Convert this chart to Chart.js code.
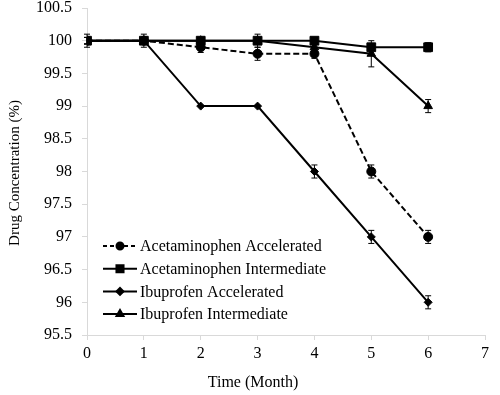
<!DOCTYPE html>
<html lang="en">
<head>
  <meta charset="UTF-8" />
  <title>Drug Concentration</title>
  <script src="https://cdn.jsdelivr.net/npm/chart.js"></script>
  <style>
    body { margin: 0; padding: 0; background: #fff; }
    #wrap { width: 500px; height: 395px; }
  </style>
</head>
<body>
  <div id="wrap"><canvas id="grafico" width="500" height="395"></canvas></div>

  <script>
    const meses = [0, 1, 2, 3, 4, 5, 6];
    const acetAcc = [100, 100, 99.9, 99.8, 99.8, 98, 97];
    const acetInt = [100, 100, 100, 100, 100, 99.9, 99.9];
    const ibuAcc = [100, 100, 99, 99, 98, 97, 96];
    const ibuInt = [100, 100, 100, 100, 99.9, 99.8, 99];
    const errAcetAcc = [0.05, 0.05, 0.08, 0.1, 0.07, 0.1, 0.1];
    const errAcetInt = [0.05, 0.05, 0.05, 0.1, 0.05, 0.05, 0.07];
    const errIbuAcc = [0.05, 0.05, 0, 0, 0.1, 0.1, 0.1];
    const errIbuInt = [0.1, 0.1, 0.05, 0.05, 0.05, 0.2, 0.1];
    const xTicks = [0, 1, 2, 3, 4, 5, 6, 7];
    const yTicks = [95.5, 96, 96.5, 97, 97.5, 98, 98.5, 99, 99.5, 100, 100.5];
    const etiquetas = ["Acetaminophen Accelerated", "Acetaminophen Intermediate",
                       "Ibuprofen Accelerated", "Ibuprofen Intermediate"];

    const fuente = '"Liberation Serif", "Times New Roman", serif';
    const gris = '#d9d9d9';

    function puntos(valores) {
      return meses.map((m, i) => ({ x: m, y: valores[i] }));
    }

    // barras de error, dibujadas antes de los marcadores
    const barrasError = {
      id: 'barrasError',
      beforeDatasetsDraw(chart) {
        const ctx = chart.ctx;
        const xs = chart.scales.x, ys = chart.scales.y;
        ctx.save();
        ctx.strokeStyle = '#000';
        ctx.lineWidth = 1;
        chart.data.datasets.forEach(ds => {
          ds.data.forEach((p, i) => {
            const e = ds.errores[i];
            if (!e) return;
            const x = xs.getPixelForValue(p.x);
            const y1 = ys.getPixelForValue(p.y + e);
            const y2 = ys.getPixelForValue(p.y - e);
            ctx.beginPath();
            ctx.moveTo(x, y1); ctx.lineTo(x, y2);
            ctx.moveTo(x - 3, y1); ctx.lineTo(x + 3, y1);
            ctx.moveTo(x - 3, y2); ctx.lineTo(x + 3, y2);
            ctx.stroke();
          });
        });
        ctx.restore();
      }
    };

    // leyenda dentro del area y titulos de ejes
    const leyendaYTitulos = {
      id: 'leyendaYTitulos',
      afterDraw(chart) {
        const ctx = chart.ctx;
        ctx.save();
        ctx.font = '16px ' + fuente;
        ctx.fillStyle = '#000';
        ctx.textBaseline = 'middle';
        chart.data.datasets.forEach((ds, i) => {
          const y = 246 + i * 22.7;
          ctx.strokeStyle = '#000';
          ctx.lineWidth = ds.borderWidth;
          ctx.setLineDash(ds.borderDash.length ? [4, 3] : []);
          ctx.beginPath();
          ctx.moveTo(103, y); ctx.lineTo(137, y);
          ctx.stroke();
          ctx.setLineDash([]);
          Chart.helpers.drawPoint(ctx, {
            pointStyle: ds.pointStyle, radius: ds.radioLeyenda, rotation: 0, borderWidth: 1
          }, 120, y);
          ctx.fillStyle = '#000';
          ctx.fill();
          ctx.textAlign = 'left';
          ctx.fillText(ds.label, 140, y + 1);
        });
        ctx.textAlign = 'center';
        ctx.fillText('Time (Month)', 253, 383);
        ctx.font = '15px ' + fuente;
        ctx.translate(15, 173);
        ctx.rotate(-Math.PI / 2);
        ctx.fillText('Drug Concentration (%)', 0, 0);
        ctx.restore();
      }
    };

    function serie(label, valores, errores, estilo, radio, radioLeyenda, guion) {
      return {
        label: label,
        data: puntos(valores),
        errores: errores,
        radioLeyenda: radioLeyenda,
        borderColor: '#000',
        backgroundColor: '#000',
        borderWidth: 2,
        borderDash: guion,
        pointStyle: estilo,
        pointRadius: radio,
        pointBackgroundColor: '#000',
        pointBorderColor: '#000',
        pointBorderWidth: 1,
        tension: 0
      };
    }

    new Chart(document.getElementById('grafico').getContext('2d'), {
      type: 'line',
      data: {
        datasets: [
          serie(etiquetas[0], acetAcc, errAcetAcc, 'circle', 4.5, 3.5, [6, 3]),
          serie(etiquetas[1], acetInt, errAcetInt, 'rect', 6.2, 5, []),
          serie(etiquetas[2], ibuAcc, errIbuAcc, 'rectRot', 4, 3.5, []),
          serie(etiquetas[3], ibuInt, errIbuInt, 'triangle', 5, 4, [])
        ]
      },
      options: {
        responsive: false,
        animation: false,
        layout: { padding: { top: 8, right: 15, left: 0, bottom: 0 } },
        plugins: { legend: { display: false }, tooltip: { enabled: false } },
        scales: {
          x: {
            type: 'linear',
            min: 0, max: 7,
            afterFit(s) { s.height = 60; s.paddingLeft = 0; s.paddingRight = 0; },
            afterBuildTicks(s) { s.ticks = xTicks.map(v => ({ value: v })); },
            grid: { drawOnChartArea: false, drawTicks: true, tickLength: 5, color: gris },
            border: { color: gris, width: 1 },
            ticks: { color: '#000', font: { family: fuente, size: 16 }, padding: 4 }
          },
          y: {
            min: 95.5, max: 100.5,
            afterFit(s) { s.width = 87; s.paddingTop = 0; s.paddingBottom = 0; },
            afterBuildTicks(s) { s.ticks = yTicks.map(v => ({ value: v })); },
            grid: { drawOnChartArea: false, drawTicks: true, tickLength: 5, color: gris },
            border: { color: gris, width: 1 },
            ticks: {
              color: '#000', font: { family: fuente, size: 16 }, padding: 10,
              callback: v => String(v)
            }
          }
        }
      },
      plugins: [barrasError, leyendaYTitulos]
    });
  </script>
</body>
</html>
